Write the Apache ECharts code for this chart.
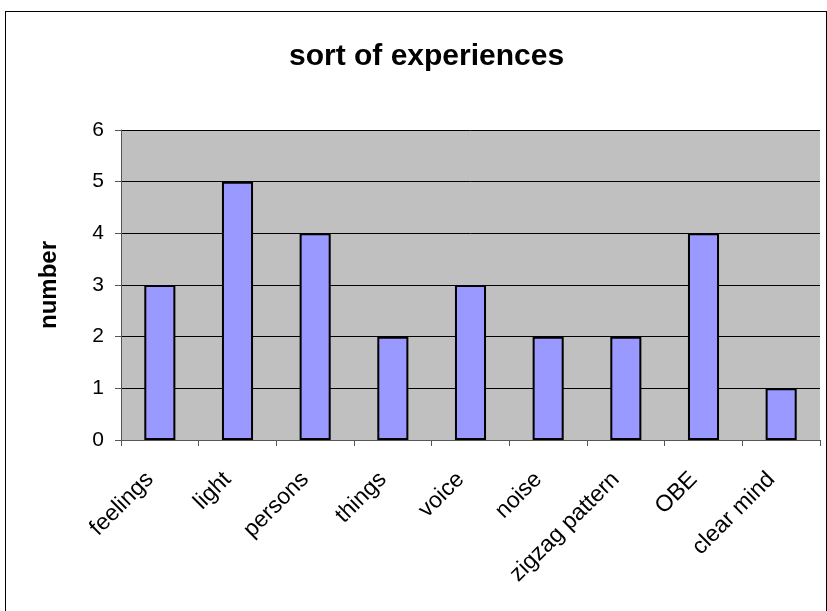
<!DOCTYPE html>
<html>
<head>
<meta charset="utf-8">
<title>sort of experiences</title>
<script src="https://cdn.jsdelivr.net/npm/echarts@6/dist/echarts.min.js"></script>
<style>
	html,body{margin:0;padding:0;background:#fff;overflow:hidden;}
	#frame{position:absolute;left:5px;top:11px;width:820px;height:640px;border:1px solid #000;}
	#main{position:absolute;left:0;top:0;width:827px;height:611px;}
</style>
</head>
<body>
<div id="frame"></div>
<div id="main"></div>
<script>
	// categories and counts
	var categories = ['feelings', 'light', 'persons', 'things', 'voice', 'noise', 'zigzag pattern', 'OBE', 'clear mind'];
	var counts = [3, 5, 4, 2, 3, 2, 2, 4, 1];
	var yTicks = [0, 1, 2, 3, 4, 5, 6];

	var chart = echarts.init(document.getElementById('main'));
	var font = 'Liberation Sans, Arial, sans-serif';
	var option = {
		animation: false,
		title: {
			text: 'sort of experiences',
			left: 284,
			top: 37,
			textStyle: {fontFamily: font, fontSize: 30, fontWeight: 'bold', color: '#000'}
		},
		grid: {
			left: 121,
			right: 7,
			top: 130,
			bottom: 171,
			show: true,
			backgroundColor: '#c0c0c0',
			borderWidth: 0
		},
		xAxis: {
			type: 'category',
			data: categories,
			axisLine: {lineStyle: {color: '#555', width: 1}},
			axisTick: {show: true, length: 6, lineStyle: {color: '#555'}},
			axisLabel: {
				rotate: 45,
				interval: 0,
				margin: 26,
				padding: [0, 14, 0, 0],
				fontFamily: font,
				fontSize: 23,
				color: '#000'
			}
		},
		yAxis: {
			type: 'value',
			min: yTicks[0],
			max: yTicks[yTicks.length - 1],
			interval: 1,
			name: 'number',
			nameLocation: 'middle',
			nameGap: 60,
			nameTextStyle: {fontFamily: font, fontSize: 24, fontWeight: 'bold', color: '#000'},
			axisLine: {show: true, lineStyle: {color: '#555', width: 1}},
			axisTick: {show: true, length: 6, lineStyle: {color: '#555'}},
			axisLabel: {fontFamily: font, fontSize: 21, color: '#000', margin: 17},
			splitLine: {show: true, lineStyle: {color: '#000', width: 1}}
		},
		series: [
			{
				type: 'bar',
				data: counts,
				barWidth: '40%',
				itemStyle: {color: '#9999ff', borderColor: '#000', borderWidth: 2}
			}
		]
	};
	chart.setOption(option);
</script>
</body>
</html>
